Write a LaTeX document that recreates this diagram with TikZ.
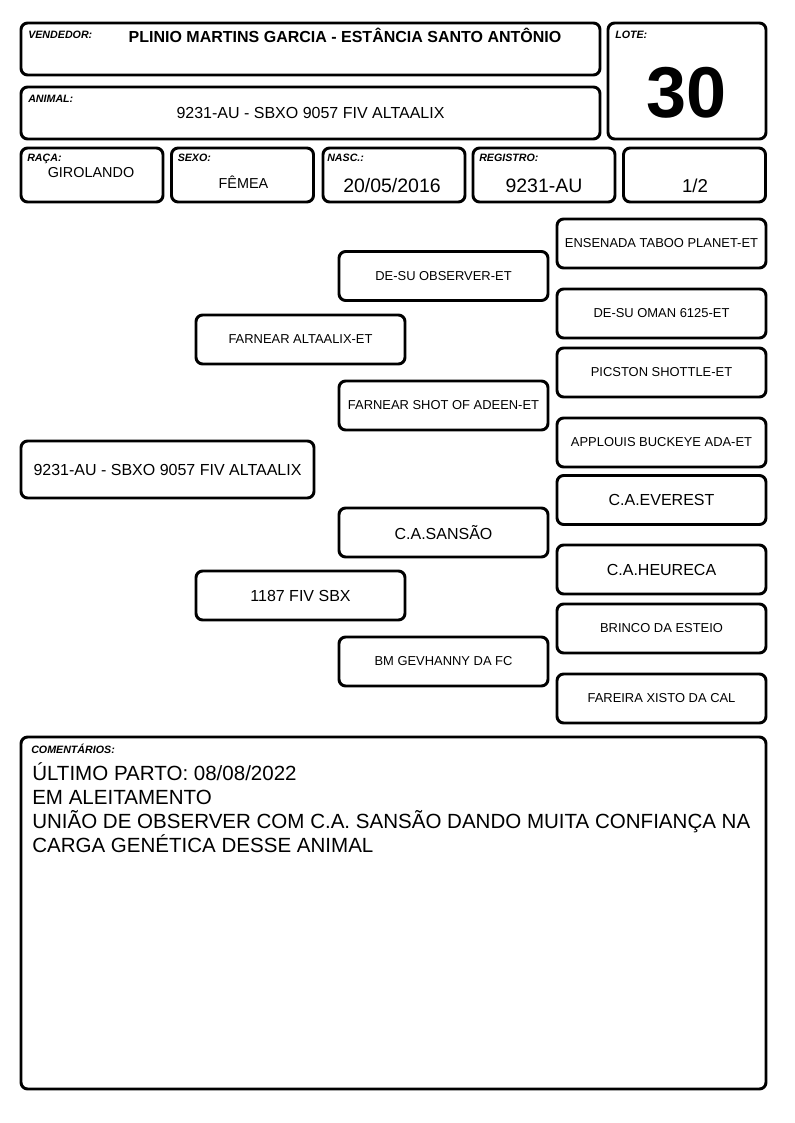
\documentclass[tikz,border=0pt]{standalone}
\usepackage{fontspec}
\setmainfont{Liberation Sans}
\usepackage{tikz}
\usetikzlibrary{positioning}
\tikzstyle{box}     = [draw, line width=2.2pt, rounded corners=5pt, inner sep=0pt, outer sep=0pt]
\tikzstyle{head}    = [box, minimum width=434.25pt, minimum height=39pt]
\tikzstyle{cell}    = [box, minimum width=106.5pt, minimum height=40.5pt]
\tikzstyle{ped}     = [box, minimum width=156.75pt, minimum height=36.75pt, font=\fontsize{9.7}{11}\selectfont]
\tikzstyle{pedbig}  = [ped, font=\fontsize{12}{14}\selectfont]
\tikzstyle{lbl}     = [anchor=base west, inner sep=0pt, font=\fontsize{8}{9}\selectfont\bfseries\itshape]
\tikzstyle{val}     = [anchor=base, inner sep=0pt]

\begin{document}
\begin{tikzpicture}[x=0.75pt, y=-0.75pt]
    \useasboundingbox (0,0) rectangle (794,1123);
    % Header: vendedor / animal / lote
    \node (vend)   at (310.5,49)  [head] {};
    \node (anim)   at (310.5,113) [head] {};
    \node (lote)   at (687,81)    [box, minimum width=118.5pt, minimum height=87pt] {};
    \node [lbl] at ([shift={(7,16)}]vend.north west) {VENDEDOR:};
    \node [lbl] at ([shift={(7,16)}]anim.north west) {ANIMAL:};
    \node [lbl] at ([shift={(7,16)}]lote.north west) {LOTE:};
    \node (vendv)  at (345,43)    [val, font=\fontsize{12}{14}\selectfont\bfseries] {PLINIO MARTINS GARCIA - ESTÂNCIA SANTO ANTÔNIO};
    \node (animv)  at (310.5,119) [val, font=\fontsize{12}{14}\selectfont] {9231-AU - SBXO 9057 FIV ALTAALIX};
    \node (lotev)  at (687,118)   [val, font=\fontsize{54}{60}\selectfont\bfseries] {30};
    % Row: raca, sexo, nasc, registro, fracao
    \node (raca)   at (92,175)    [cell] {};
    \node (sexo)   at (242.5,175) [cell] {};
    \node (nasc)   at (394,175)   [cell] {};
    \node (reg)    at (544,175)   [cell] {};
    \node (frac)   at (694.5,175) [cell] {};
    \node [lbl] at ([shift={(6,14)}]raca.north west) {RAÇA:};
    \node [lbl] at ([shift={(6,14)}]sexo.north west) {SEXO:};
    \node [lbl] at ([shift={(4,14)}]nasc.north west) {NASC.:};
    \node [lbl] at ([shift={(6,14)}]reg.north west)  {REGISTRO:};
    \node (racav)  at (91,178)    [val, font=\fontsize{10.8}{12}\selectfont] {GIROLANDO};
    \node (sexov)  at (243.5,189) [val, font=\fontsize{10.8}{12}\selectfont] {FÊMEA};
    \node (nascv)  at (392,193)   [val, font=\fontsize{14.6}{16}\selectfont] {20/05/2016};
    \node (regv)   at (544,193)   [val, font=\fontsize{14.6}{16}\selectfont] {9231-AU};
    \node (fracv)  at (695,193)   [val, font=\fontsize{14}{16}\selectfont] {1/2};
    % Pedigree: animal, pais, avos, bisavos
    \node (a0)     at (167.5,469.5) [pedbig, minimum width=219.75pt, minimum height=42.75pt] {9231-AU - SBXO 9057 FIV ALTAALIX};
    \node (p1)     at (300.5,339.5) [ped]    {FARNEAR ALTAALIX-ET};
    \node (p2)     at (300.5,595.5) [pedbig] {1187 FIV SBX};
    \node (g1)     at (443.5,276)   [ped]    {DE-SU OBSERVER-ET};
    \node (g2)     at (443.5,405.5) [ped]    {FARNEAR SHOT OF ADEEN-ET};
    \node (g3)     at (443.5,532.5) [pedbig] {C.A.SANSÃO};
    \node (g4)     at (443.5,661.5) [ped]    {BM GEVHANNY DA FC};
    \node (b1)     at (661.5,243.5) [ped]    {ENSENADA TABOO PLANET-ET};
    \node (b2)     at (661.5,313.5) [ped]    {DE-SU OMAN 6125-ET};
    \node (b3)     at (661.5,372.5) [ped]    {PICSTON SHOTTLE-ET};
    \node (b4)     at (661.5,442.5) [ped]    {APPLOUIS BUCKEYE ADA-ET};
    \node (b5)     at (661.5,500)   [pedbig] {C.A.EVEREST};
    \node (b6)     at (661.5,569.5) [pedbig] {C.A.HEURECA};
    \node (b7)     at (661.5,628.5) [ped]    {BRINCO DA ESTEIO};
    \node (b8)     at (661.5,698.5) [ped]    {FAREIRA XISTO DA CAL};
    % Comentarios
    \node (com)    at (393.5,913) [box, minimum width=558.75pt, minimum height=264pt] {};
    \node [lbl] at ([shift={(10,16)}]com.north west) {COMENTÁRIOS:};
    \node (comv)   at (32,852) [anchor=base west, inner sep=0pt, align=left, font=\fontsize{15.4}{17.8}\selectfont]
        {ÚLTIMO PARTO: 08/08/2022\\EM ALEITAMENTO\\UNIÃO DE OBSERVER COM C.A. SANSÃO DANDO MUITA CONFIANÇA NA\\CARGA GENÉTICA DESSE ANIMAL};
\end{tikzpicture}
\end{document}
